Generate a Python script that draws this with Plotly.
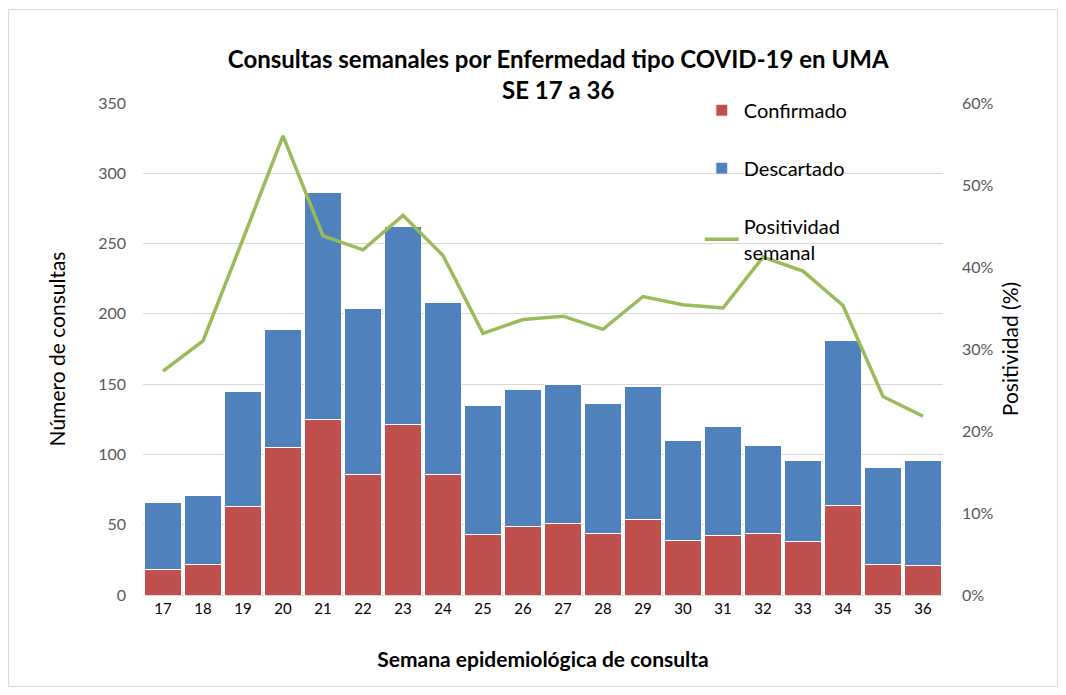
import plotly.graph_objects as go

semanas = [str(s) for s in range(17, 37)]
confirmado = [18, 22, 63, 105, 125, 86, 121, 86, 43, 49, 51, 44, 54, 39, 42, 44, 38, 64, 22, 21]
descartado = [48, 49, 82, 84, 161, 118, 141, 122, 92, 97, 99, 92, 94, 71, 78, 62, 58, 117, 69, 75]
positividad = [27.3, 31.0, 43.4, 56.0, 43.8, 42.1, 46.3, 41.4, 31.9, 33.6, 34.0, 32.4,
               36.4, 35.4, 35.0, 41.2, 39.5, 35.3, 24.2, 21.8]
left_ticks = [0, 50, 100, 150, 200, 250, 300, 350]
right_ticks = [0, 10, 20, 30, 40, 50, 60]
right_labels = [f"{v}%" for v in right_ticks]

FONT = "Lato"
GREY = "#595959"

fig = go.Figure()
fig.add_trace(go.Bar(x=semanas, y=confirmado, name="Confirmado",
                     marker=dict(color="#c0504d", line=dict(color="white", width=1)),
                     legendgroup="a"))
fig.add_trace(go.Bar(x=semanas, y=descartado, name="Descartado",
                     marker=dict(color="#4f81bd", line=dict(color="white", width=1)),
                     legendgroup="b"))
fig.add_trace(go.Scatter(x=semanas, y=positividad, name="Positividad<br>semanal",
                         mode="lines", line=dict(color="#9bbb59", width=3.5),
                         yaxis="y2", legendgroup="c"))

fig.update_layout(
    width=1050, height=679,
    barmode="stack", bargap=0.06,
    paper_bgcolor="white", plot_bgcolor="white",
    margin=dict(l=135, r=115, t=95, b=92),
    font=dict(family=FONT, color=GREY, size=16),
    title=dict(text="<b>Consultas semanales por Enfermedad tipo COVID-19 en UMA<br>SE 17 a 36</b>",
               x=0.524, xanchor="center", y=0.912, yanchor="middle",
               font=dict(family=FONT, size=24, color="black")),
    xaxis=dict(type="category", showgrid=False, showline=True, linecolor="#d9d9d9",
               linewidth=1, ticks="", tickfont=dict(size=15, color="black"),
               title=dict(text="<b>Semana epidemiológica de consulta</b>",
                          font=dict(size=21, color="black"), standoff=36)),
    yaxis=dict(range=[0, 350], tickvals=left_ticks, showgrid=True, gridcolor="#d9d9d9",
               gridwidth=1, zeroline=False, tickfont=dict(size=16, color=GREY),
               ticklabelstandoff=16,
               title=dict(text="Número de consultas", font=dict(size=21, color="black"),
                          standoff=26)),
    yaxis2=dict(range=[0, 60], tickvals=right_ticks, ticktext=right_labels, overlaying="y",
                side="right", showgrid=False, zeroline=False,
                tickfont=dict(size=16, color=GREY), ticklabelstandoff=18,
                title=dict(text="Positividad (%)", font=dict(size=21, color="black"),
                           standoff=10)),
    legend=dict(x=0.696, y=1.025, xanchor="left", yanchor="top", traceorder="grouped",
                font=dict(size=20, color="black"), tracegroupgap=29,
                bgcolor="rgba(0,0,0,0)", itemwidth=34),
    shapes=[dict(type="rect", xref="paper", yref="paper", x0=-0.168, x1=1.143,
                 y0=-0.186, y1=1.19, line=dict(color="#d9d9d9", width=1),
                 fillcolor="rgba(0,0,0,0)", layer="below")],
)

fig.write_html("out.html")
